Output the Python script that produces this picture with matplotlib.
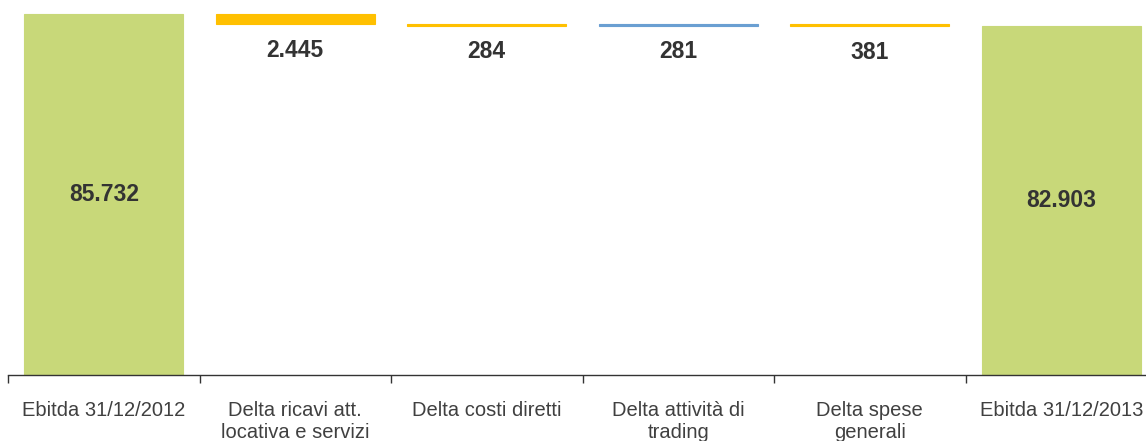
import matplotlib.pyplot as plt
import numpy as np

plt.rcParams['font.family'] = ['Liberation Sans', 'DejaVu Sans']

categories = ["Ebitda 31/12/2012", "Delta ricavi att.\nlocativa e servizi", "Delta costi diretti",
              "Delta attività di\ntrading", "Delta spese\ngenerali", "Ebitda 31/12/2013"]
start_value = 85732
deltas = [-2445, -284, 281, -381]
end_value = 82903

GREEN = "#c8d879"
YELLOW = "#ffc000"
BLUE = "#6a9fd2"
TEXT = "#404040"


def fmt(v):
    return f"{abs(v):,}".replace(",", ".")


# waterfall geometry
bottoms, heights, colors = [0], [start_value], [GREEN]
level = start_value
for d in deltas:
    new = level + d
    bottoms.append(min(level, new))
    heights.append(abs(d))
    colors.append(BLUE if d > 0 else YELLOW)
    level = new
bottoms.append(0)
heights.append(end_value)
colors.append(GREEN)

fig = plt.figure(figsize=(11.46, 4.41), dpi=100)
ax = fig.add_axes([8 / 1146, 66 / 441, 1149 / 1146, 370.5 / 441])

x = np.arange(len(categories))
ax.bar(x, heights, bottom=bottoms, width=0.83, color=colors, edgecolor=colors, linewidth=0.8)

for i, (b, h) in enumerate(zip(bottoms, heights)):
    if i in (0, len(categories) - 1):
        ax.text(i, b + h / 2, fmt(h), ha="center", va="center", fontsize=16.5,
                fontweight="bold", color="#333333")
    else:
        ax.annotate(fmt(deltas[i - 1]), (i, b), xytext=(0, -19), textcoords="offset points",
                    ha="center", va="center", fontsize=16.5, fontweight="bold", color="#333333")

ax.set_xlim(-0.5, len(categories) - 0.5)
ax.set_ylim(0, 88000)
ax.set_yticks([])
for s in ("left", "right", "top"):
    ax.spines[s].set_visible(False)
ax.spines["bottom"].set_color("#333333")
ax.spines["bottom"].set_linewidth(1.0)

ax.set_xticks(x)
ax.set_xticklabels(categories, fontsize=14.5, color=TEXT, linespacing=1.2)
ax.tick_params(axis="x", which="major", length=0, pad=19)
ax.set_xticks(np.arange(-0.5, len(categories), 1.0), minor=True)
ax.tick_params(axis="x", which="minor", length=6, width=1.0, color="#333333", direction="out")

fig.savefig("out.png", dpi=100)
